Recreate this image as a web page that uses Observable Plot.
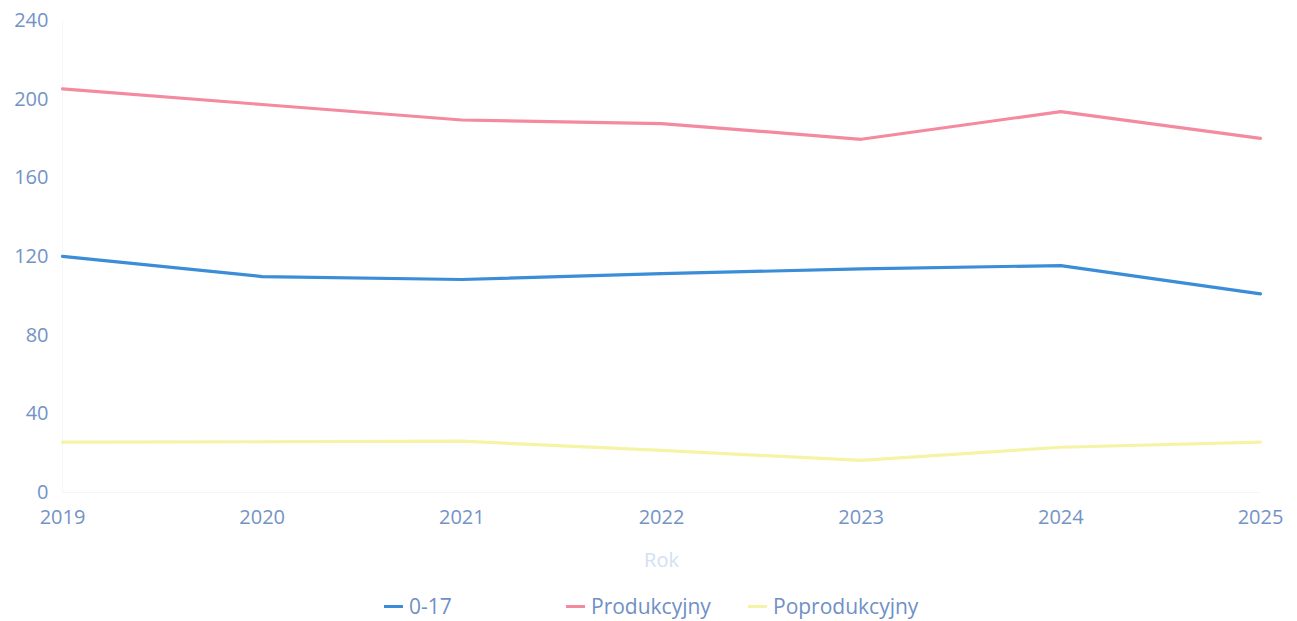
<!DOCTYPE html>
<html><head><meta charset="utf-8">
<script src="https://cdn.jsdelivr.net/npm/d3@7"></script>
<script src="https://cdn.jsdelivr.net/npm/@observablehq/plot@0.6"></script>
<style>
body{margin:0;background:#fff;font-family:"Open Sans",sans-serif;}
#legend{position:absolute;top:592px;left:0;width:1297px;height:30px;font-size:21px;color:#6f90c6;}
.item{position:absolute;top:0;display:flex;align-items:center;}
.sw{display:inline-block;width:19px;height:3px;margin-right:6px;}
</style></head>
<body>
<div id="chart"></div>
<div id="legend"></div>
<script>
const years = [2019, 2020, 2021, 2022, 2023, 2024, 2025];
const series = ["0-17", "Produkcyjny", "Poprodukcyjny"];
const colors = ["#3a8dd6", "#f48a9d", "#f7f3a6"];
const v017 = [120.1, 109.8, 108.3, 111.3, 113.7, 115.4, 101.0];
const vProd = [205.2, 197.3, 189.4, 187.6, 179.6, 193.7, 180.1];
const vPop = [25.6, 25.8, 26.1, 21.4, 16.3, 23.0, 25.6];
const yTicks = [0, 40, 80, 120, 160, 200, 240];

const values = [v017, vProd, vPop];
const data = [];
series.forEach((s, i) => years.forEach((y, j) => data.push({rok: y, seria: s, v: values[i][j]})));

const chart = Plot.plot({
  width: 1297, height: 580,
  marginLeft: 62, marginRight: 37, marginTop: 20, marginBottom: 88,
  style: {fontFamily: "Open Sans", fontSize: "20px", color: "#7393c6", background: "white"},
  x: {domain: [2019, 2025], ticks: years, tickFormat: d => String(d), tickSize: 0, tickPadding: 17, label: "Rok", labelAnchor: "center", labelArrow: "none", labelOffset: 74},
  y: {domain: [0, 240], ticks: yTicks, tickSize: 0, tickPadding: 14, label: null},
  color: {domain: series, range: colors},
  marks: [
    Plot.ruleY([0], {stroke: "#f3f5f8", strokeWidth: 1}),
    Plot.ruleX([2019], {stroke: "#f6f7f9", strokeWidth: 1}),
    Plot.lineY(data, {x: "rok", y: "v", z: "seria", stroke: "seria", strokeWidth: 3.2, curve: "linear"})
  ]
});
document.getElementById("chart").appendChild(chart);
// fade the axis label "Rok"
chart.querySelectorAll("g[aria-label='x-axis label'] text").forEach(t => {t.setAttribute("fill", "#d2e1f4");});

const lg = document.getElementById("legend");
const lefts = [384, 566, 748];
series.forEach((s, i) => {
  const it = document.createElement("div");
  it.className = "item";
  it.style.left = lefts[i] + "px";
  it.innerHTML = `<span class="sw" style="background:${colors[i]}"></span><span>${s}</span>`;
  lg.appendChild(it);
});
</script>
</body></html>
